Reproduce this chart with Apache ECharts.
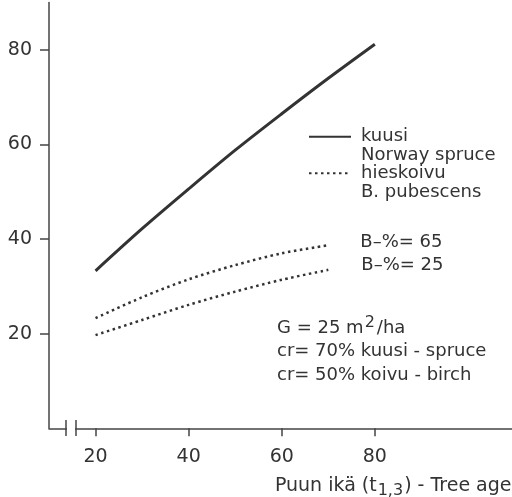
<!DOCTYPE html>
<html>
<head>
<meta charset="utf-8">
<script src="https://cdn.jsdelivr.net/npm/echarts@6/dist/echarts.min.js"></script>
<style>
  html, body { margin: 0; padding: 0; background: #fff; }
  #chart { width: 512px; height: 497px; }
</style>
</head>
<body>
<div id="chart"></div>
<script>
// tree age (t1,3)
const ages = [20, 30, 40, 50, 60, 70, 80]
const birchAges = [20, 30, 40, 50, 60, 70]
// kuusi - Norway spruce
const spruce = [33.3, 42.2, 50.6, 58.8, 66.5, 74.0, 81.2]
// hieskoivu, B-% = 65 and B-% = 25
const birch65 = [23.3, 27.7, 31.5, 34.5, 37.0, 38.7]
const birch25 = [19.7, 22.9, 26.1, 28.9, 31.4, 33.5]
const xTicks = [20, 40, 60, 80]
const yTicks = [20, 40, 60, 80]

const ink = '#333'
const axisInk = '#444'
const font = 'DejaVu Sans'
const dots = [2.5, 3.5]

const latin = { kuusi: 'Norway spruce', hieskoivu: 'B. pubescens' }

const pairs = (xs, ys) => xs.map((x, i) => [x, ys[i]])

const chart = echarts.init(document.getElementById('chart'))

chart.setOption({
  animation: false,
  backgroundColor: '#fff',
  grid: { left: 49, top: 2.6, width: 465.5, bottom: 68.7, outerBoundsMode: 'none' },
  xAxis: {
    type: 'value',
    min: 10,
    max: 110,
    splitLine: { show: false },
    axisLine: { show: true, lineStyle: { color: axisInk, width: 1.5 } },
    axisTick: { show: true, customValues: xTicks, length: 8, lineStyle: { color: axisInk, width: 1.5 } },
    axisLabel: { customValues: xTicks, color: ink, fontFamily: font, fontSize: 19, margin: 19 },
    name: '{a|Puun ikä (t}{sub|1,3}{a|) - Tree age}',
    nameLocation: 'end',
    nameGap: -3,
    nameTextStyle: {
      align: 'right',
      verticalAlign: 'top',
      padding: [44, 0, 0, 0],
      rich: {
        a: { fontFamily: font, fontSize: 19, color: ink },
        sub: { fontFamily: font, fontSize: 16, color: ink, padding: [11, 1, 0, 1] }
      }
    }
  },
  yAxis: {
    type: 'value',
    min: 0,
    max: 90,
    splitLine: { show: false },
    axisLine: { show: true, lineStyle: { color: axisInk, width: 1.5 } },
    axisTick: { show: true, customValues: yTicks, length: 9, lineStyle: { color: axisInk, width: 1.5 } },
    axisLabel: { customValues: yTicks, color: ink, fontFamily: font, fontSize: 19, margin: 17 }
  },
  legend: {
    left: 308,
    top: 108.5,
    padding: 0,
    orient: 'vertical',
    itemWidth: 42,
    itemHeight: 10,
    itemGap: -19.8,
    selectedMode: false,
    data: ['kuusi', 'hieskoivu'],
    // leading blank line keeps the symbol level with the first line
    formatter: n => '\n{t|' + n + '}\n{t|' + latin[n] + '}',
    itemStyle: { opacity: 0 },
    textStyle: {
      color: ink,
      fontFamily: font,
      fontSize: 18,
      lineHeight: 18.8,
      rich: {
        t: { color: ink, fontFamily: font, fontSize: 18, lineHeight: 18.8, padding: [0, 0, 0, 5] }
      }
    }
  },
  series: [
    {
      name: 'kuusi',
      type: 'line',
      data: pairs(ages, spruce),
      smooth: 0.3,
      symbol: 'none',
      lineStyle: { color: ink, width: 3 }
    },
    {
      name: 'hieskoivu',
      type: 'line',
      data: pairs(birchAges, birch65),
      smooth: 0.3,
      symbol: 'none',
      lineStyle: { color: ink, width: 2.5, type: dots },
      endLabel: {
        show: true, formatter: 'B–%= 65', distance: 32, offset: [0, -3],
        color: ink, fontFamily: font, fontSize: 18
      }
    },
    {
      name: 'hieskoivu',
      type: 'line',
      data: pairs(birchAges, birch25),
      smooth: 0.3,
      symbol: 'none',
      lineStyle: { color: ink, width: 2.5, type: dots },
      endLabel: {
        show: true, formatter: 'B–%= 25', distance: 33, offset: [0, -5],
        color: ink, fontFamily: font, fontSize: 18
      }
    }
  ],
  graphic: [
    // axis break on the x axis
    { type: 'rect', z: 100, shape: { x: 67, y: 424, width: 8, height: 8 }, style: { fill: '#fff' } },
    { type: 'line', z: 101, shape: { x1: 66, y1: 420, x2: 66, y2: 436 }, style: { stroke: axisInk, lineWidth: 1.5 } },
    { type: 'line', z: 101, shape: { x1: 76, y1: 420, x2: 76, y2: 436 }, style: { stroke: axisInk, lineWidth: 1.5 } },
    {
      type: 'text',
      z: 100,
      left: 277,
      top: 315,
      style: {
        text: '{a|G = 25 m}{sup|2}{a|/ha}\n{a|cr= 70% kuusi - spruce}\n{a|cr= 50% koivu - birch}',
        fill: ink,
        rich: {
          a: { fontFamily: font, fontSize: 18, lineHeight: 23.7, fill: ink },
          sup: { fontFamily: font, fontSize: 16, lineHeight: 23.7, fill: ink, padding: [0, 2, 10, 1] }
        }
      }
    }
  ]
})
</script>
</body>
</html>
